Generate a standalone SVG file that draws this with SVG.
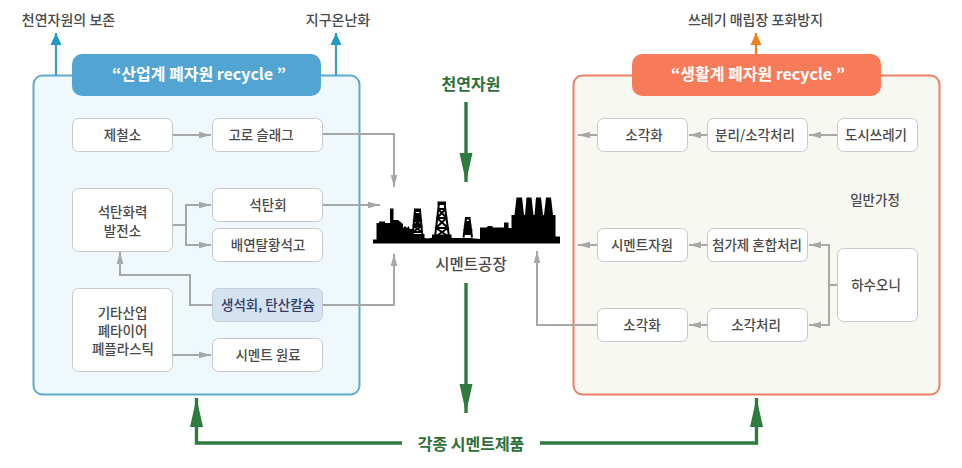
<svg xmlns="http://www.w3.org/2000/svg" width="962" height="468" viewBox="0 0 962 468">
<style>
text{font-family:"Noto Sans CJK KR","Noto Sans",sans-serif;font-size:13.5px;font-weight:500;fill:#4a4a4a;text-anchor:middle}
.n{fill:#fff;stroke:#c6c9c9;stroke-width:1}
.hd{font-size:16px;font-weight:700;fill:#fff}
.g{font-size:16px;font-weight:700;fill:#2f6f3a}
.t{font-size:14px}
.c{fill:none;stroke:#a6a8a8;stroke-width:2}
.cr{fill:none;stroke:#a8a9a4;stroke-width:2}
.gr{fill:none;stroke:#2f7a3e;stroke-width:3.4}
.f{fill:#000}
.l{fill:none;stroke:#000;stroke-width:2}
</style>
<defs>
<marker id="a" markerUnits="userSpaceOnUse" markerWidth="14" markerHeight="8" refX="12" refY="4" orient="auto"><path d="M0 .7L12 4L0 7.3z" fill="#a6a8a8"/></marker>
<marker id="b" markerUnits="userSpaceOnUse" markerWidth="12" markerHeight="12" refX="12" refY="6" orient="auto"><path d="M0 .5L12 6L0 11.500z" fill="#1f9cc6"/></marker>
<marker id="o" markerUnits="userSpaceOnUse" markerWidth="12" markerHeight="12" refX="12" refY="6" orient="auto"><path d="M0 .5L12 6L0 11.500z" fill="#f07f1e"/></marker>
<marker id="g" markerUnits="userSpaceOnUse" markerWidth="30" markerHeight="14" refX="29" refY="7" orient="auto"><path d="M0 .5L29 7L0 13.500z" fill="#2f7a3e"/></marker>
</defs>

<g id="connectors-top">
<path d="M56 75V33" fill="none" stroke="#3a9cc0" stroke-width="2.200" marker-end="url(#b)"/>
<path d="M336 75V33" fill="none" stroke="#3a9cc0" stroke-width="2.200" marker-end="url(#b)"/>
<path d="M756 55V33" fill="none" stroke="#f07f1e" stroke-width="2.200" marker-end="url(#o)"/>
</g>

<g id="panel-industrial">
<rect x="33.500" y="75.500" width="326" height="319" rx="9" fill="#eff8fc" stroke="#5fa9cb" stroke-width="2"/>
<rect x="72" y="54" width="249" height="42" rx="10" fill="#52a5d2"/>
<text class="hd" x="199" y="80">“산업계 폐자원 recycle ”</text>
</g>
<g id="panel-household">
<rect x="573.500" y="75.500" width="366" height="319" rx="9" fill="#f8f8f2" stroke="#ec7e63" stroke-width="2"/>
<rect x="632" y="54" width="249" height="42" rx="10" fill="#f77b58"/>
<text class="hd" x="758" y="80">“생활계 폐자원 recycle ”</text>
</g>

<g id="connectors">
<path class="c" d="M173 135H211" marker-end="url(#a)"/>
<path class="c" d="M323 134H394V187" marker-end="url(#a)"/>
<path class="c" d="M323 205H380" marker-end="url(#a)"/>
<path class="c" d="M173 225H186"/>
<path class="c" d="M186 205V245"/>
<path class="c" d="M185 205H211" marker-end="url(#a)"/>
<path class="c" d="M185 245H211" marker-end="url(#a)"/>
<path class="c" d="M212 305H190V275H120V252" marker-end="url(#a)"/>
<path class="c" d="M323 305H394V254" marker-end="url(#a)"/>
<path class="c" d="M173 355H211" marker-end="url(#a)"/>
<path class="cr" d="M837 135H809" marker-end="url(#a)"/>
<path class="cr" d="M707 135H689" marker-end="url(#a)"/>
<path class="cr" d="M597 135H578" marker-end="url(#a)"/>
<path class="cr" d="M707 245H689" marker-end="url(#a)"/>
<path class="cr" d="M597 245H578" marker-end="url(#a)"/>
<path class="cr" d="M837 285H829"/>
<path class="cr" d="M829 245H809" marker-end="url(#a)"/>
<path class="cr" d="M829 244V325H809" marker-end="url(#a)"/>
<path class="cr" d="M707 325H689" marker-end="url(#a)"/>
<path class="cr" d="M597 325H537V251" marker-end="url(#a)"/>
<path class="gr" d="M466 102V182" marker-end="url(#g)"/>
<path class="gr" d="M466 283V413" marker-end="url(#g)"/>
<path class="gr" d="M402 443H196.500V398" marker-end="url(#g)"/>
<path class="gr" d="M540 443H756.500V398" marker-end="url(#g)"/>
</g>

<g id="n1"><rect class="n" x="72.500" y="118.500" width="100" height="33" rx="6"/><text x="122.500" y="140">제철소</text></g>
<g id="n2"><rect class="n" x="212.500" y="118.500" width="110" height="33" rx="6"/><text x="261" y="140">고로 슬래그</text></g>
<g id="n3"><rect class="n" x="72.500" y="188.500" width="100" height="63" rx="6"/><text x="122.500" y="217">석탄화력</text><text x="122.500" y="236">발전소</text></g>
<g id="n4"><rect class="n" x="212.500" y="188.500" width="110" height="33" rx="6"/><text x="268" y="210">석탄회</text></g>
<g id="n5"><rect class="n" x="212.500" y="228.500" width="110" height="33" rx="6"/><text x="268" y="250">배연탈황석고</text></g>
<g id="n6"><rect x="212.500" y="288.500" width="110" height="33" rx="6" fill="#d5e2f1" stroke="#c4ccd6"/><text x="268" y="310" style="fill:#2d3a66">생석회, 탄산칼슘</text></g>
<g id="n7"><rect class="n" x="72.500" y="288.500" width="100" height="83" rx="6"/><text x="122.500" y="318">기타산업</text><text x="122.500" y="336">폐타이어</text><text x="123" y="354">폐플라스틱</text></g>
<g id="n8"><rect class="n" x="212.500" y="338.500" width="110" height="33" rx="6"/><text x="268" y="360">시멘트 원료</text></g>

<g id="n9"><rect class="n" x="597.500" y="118.500" width="90" height="33" rx="6"/><text x="644" y="140">소각화</text></g>
<g id="n10"><rect class="n" x="707.500" y="118.500" width="100" height="33" rx="6"/><text x="755" y="140">분리/소각처리</text></g>
<g id="n11"><rect class="n" x="837.500" y="118.500" width="80" height="33" rx="6"/><text x="876" y="140">도시쓰레기</text></g>
<g id="n12"><rect class="n" x="597.500" y="228.500" width="90" height="33" rx="6"/><text x="642" y="250">시멘트자원</text></g>
<g id="n13"><rect class="n" x="707.500" y="228.500" width="100" height="33" rx="6"/><text x="757" y="250">첨가제 혼합처리</text></g>
<g id="n14"><rect class="n" x="837.500" y="248.500" width="80" height="73" rx="6"/><text x="876" y="290">하수오니</text></g>
<g id="n15"><rect class="n" x="597.500" y="308.500" width="90" height="33" rx="6"/><text x="642" y="330">소각화</text></g>
<g id="n16"><rect class="n" x="707.500" y="308.500" width="100" height="33" rx="6"/><text x="756" y="330">소각처리</text></g>

<g id="labels">
<text class="t" x="68.500" y="25">천연자원의 보존</text>
<text class="t" x="338" y="25">지구온난화</text>
<text class="t" x="755.500" y="25">쓰레기 매립장 포화방지</text>
<text x="875" y="205">일반가정</text>
<text class="g" x="471" y="90">천연자원</text>
<text class="g" x="471" y="450">각종 시멘트제품</text>
<text x="471" y="270" style="font-size:15.500px">시멘트공장</text>
</g>

<g id="factory">
<path class="f" d="M373 239.500H376.500V223H379V221.500H385V223H390V208.500H393.500V220H398L403 224V228L405 226L407 228L408.500 226L410 229H413V236L420 237.500L428 238.500L433 237.500L454 238L470 238L480 239V227.500H486.500L488 226H492L493 227.500H504V222.500H508.500V228H511.500V215H514.500L516.500 197.500H522L524 215H525L526.500 197.500H531.500L533.500 215H534.500L536 197.500H541L543 215H544L546 197.500H551L553 215H555.500V236.500H560V243.500H373Z"/>
<path class="l" d="M412.500 237L415 210H420L422.500 237M414.500 214H420.500M414 220H421M413.500 226H421.500M413 232H422M414.500 214L421 220L413.500 226L422 232M420.500 214L414 220L421.500 226L413 232"/>
<path class="f" d="M414 208.500H421V212H414ZM410.500 234H424.500V238H410.500Z"/>
<path class="l" d="M435 237L439 203H444.500L449 237M438 209H445.500M437 218H446.500M436 228H448M438 209L446.500 218L436 228L449 237M445.500 209L437 218L448 228L435 237"/>
<path class="f" d="M437.500 201.500H446V205H437.500ZM432 234.500H451.500V238H432Z"/>
<path class="l" d="M463.500 237.500L466 218H469.500L472 237.500M465.500 222H470M465 226H470.500M464.500 230H471.200M464 234H471.700M465.500 222L470.500 226L464.500 230L471.700 234M470 222L465 226L471.200 230L464 234"/>
<path class="f" d="M465.500 217H470V219.500H465.500Z"/>
</g>
</svg>
